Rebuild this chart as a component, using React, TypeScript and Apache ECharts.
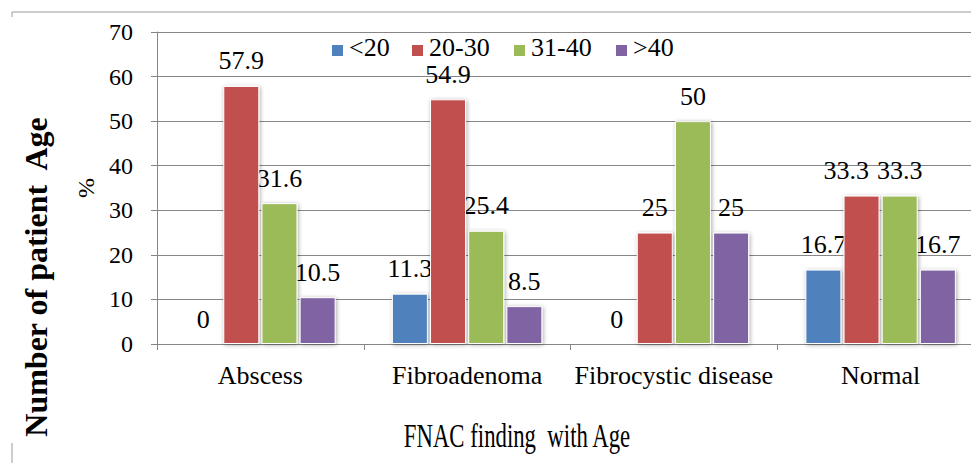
import React, { useEffect, useRef } from "react";
import * as echarts from "echarts";

const categories = ["Abscess", "Fibroadenoma", "Fibrocystic disease", "Normal"];
const seriesNames = ["<20", "20-30", "31-40", ">40"];
const under20 = [0, 11.3, 0, 16.7];
const age20to30 = [57.9, 54.9, 25, 33.3];
const age31to40 = [31.6, 25.4, 50, 33.3];
const over40 = [10.5, 8.5, 25, 16.7];
const yTickLabels = ["0", "10", "20", "30", "40", "50", "60", "70"];
const colors = ["#4F81BD", "#C0504D", "#9BBB59", "#8064A2"];
const yTicks = { min: 0, max: 70, interval: 10 };

const SERIF = "Liberation Serif";
const LEGEND_X = [332, 412, 514, 616];

// Texts are drawn at twice the size and scaled down by half.
function txt(text: string, x: number, y: number, size: number, align: string, extra: any = {}) {
  const { style: extraStyle, ...rest } = extra;
  return {
    type: "text",
    x,
    y,
    silent: true,
    scaleX: 0.5,
    scaleY: 0.5,
    ...rest,
    style: {
      text,
      fontFamily: SERIF,
      fontSize: size * 2,
      fill: "#000",
      align,
      verticalAlign: "middle",
      ...(extraStyle || {}),
    },
  };
}

function estWidth(s: string, size: number) {
  let w = 0;
  for (const ch of s) w += ch === "." ? 0.25 : 0.5;
  return w * size;
}

export default function App() {
  const ref = useRef<HTMLDivElement>(null);
  useEffect(() => {
    if (!ref.current) return;
    const chart = echarts.init(ref.current, null, { renderer: "svg" });
    const allData = [under20, age20to30, age31to40, over40];
    const series = allData.map((vals, i) => ({
      name: seriesNames[i],
      type: "bar",
      barWidth: 36,
      barGap: "6%",
      data: vals.map((v) =>
        v === 0
          ? { value: v, itemStyle: { borderWidth: 0, shadowBlur: 0, shadowColor: "transparent" } }
          : v
      ),
      itemStyle: {
        color: colors[i],
        borderColor: "#ffffff",
        borderWidth: 1,
        shadowBlur: 4,
        shadowColor: "rgba(0,0,0,0.35)",
        shadowOffsetX: 1,
        shadowOffsetY: 1,
      },
      label: { show: false },
    }));

    chart.setOption({
      animation: false,
      backgroundColor: "#ffffff",
      grid: { left: 157, top: 32, width: 827, height: 312, containLabel: false },
      legend: { show: false },
      xAxis: {
        type: "category",
        data: categories,
        axisLine: { show: true, lineStyle: { color: "#868686", width: 1 } },
        axisTick: { show: true, length: 6, alignWithLabel: false, lineStyle: { color: "#868686" } },
        axisLabel: { show: false },
      },
      yAxis: {
        type: "value",
        min: yTicks.min,
        max: yTicks.max,
        interval: yTicks.interval,
        axisLine: { show: true, lineStyle: { color: "#868686", width: 1 } },
        axisTick: { show: true, length: 6, lineStyle: { color: "#868686" } },
        splitLine: { show: true, lineStyle: { color: "#868686", width: 1 } },
        axisLabel: { show: false },
      },
      series,
    });

    const g: any[] = [
      { type: "line", silent: true, shape: { x1: 12, y1: 12, x2: 1000, y2: 12 }, style: { stroke: "#9a9a9a", lineWidth: 1 } },
      { type: "line", silent: true, shape: { x1: 12, y1: 12, x2: 12, y2: 17 }, style: { stroke: "#9a9a9a", lineWidth: 1 } },
      { type: "line", silent: true, shape: { x1: 12, y1: 443, x2: 12, y2: 463 }, style: { stroke: "#9a9a9a", lineWidth: 1 } },
      {
        type: "text",
        x: 517,
        y: 436,
        scaleX: 0.69,
        silent: true,
        style: {
          text: "FNAC finding  with Age",
          fontFamily: SERIF,
          fontSize: 33,
          fill: "#000",
          align: "center",
          verticalAlign: "middle",
        },
      },
      {
        type: "text",
        x: 36,
        y: 277,
        rotation: Math.PI / 2,
        silent: true,
        style: {
          text: "Number of patient  Age",
          fontFamily: SERIF,
          fontWeight: "bold",
          fontSize: 32,
          fill: "#000",
          align: "center",
          verticalAlign: "middle",
        },
      },
      txt("%", 86, 188, 24, "center", { rotation: Math.PI / 2 }),
    ];

    // legend
    seriesNames.forEach((name, i) => {
      g.push({
        type: "rect",
        silent: true,
        shape: { x: LEGEND_X[i], y: 45, width: 11, height: 11 },
        style: { fill: colors[i] },
      });
      g.push(txt(name, LEGEND_X[i] + 17, 47, 26, "left"));
    });

    // y tick labels
    const axisX = 157;
    yTickLabels.forEach((t) => {
      const py = chart.convertToPixel({ yAxisIndex: 0 }, Number(t)) as number;
      g.push(txt(t, axisX - 24, py, 24, "right"));
    });

    // category labels
    const baseY = chart.convertToPixel({ yAxisIndex: 0 }, 0) as number;
    categories.forEach((c) => {
      const px = chart.convertToPixel({ xAxisIndex: 0 }, c) as number;
      g.push(txt(c, px, baseY + 31, 26, "center"));
    });

    // data labels from the bar layout
    const LABEL_SIZE = 26;
    const model = (chart as any).getModel();
    const labels: { i: number; j: number; text: string; cx: number; cy: number }[] = [];
    allData.forEach((vals, i) => {
      const data = model.getSeriesByIndex(i).getData();
      vals.forEach((v, j) => {
        const lay = data.getItemLayout(j);
        const cx = lay.x + lay.width / 2;
        const top = Math.min(lay.y, lay.y + lay.height);
        labels.push({ i, j, text: String(v), cx, cy: top - 25 });
      });
    });
    categories.forEach((_, j) => {
      const ls = labels.filter((l) => l.j === j).sort((a, b) => a.i - b.i);
      for (let k = ls.length - 2; k >= 0; k--) {
        const a = ls[k];
        const b = ls[k + 1];
        if (Math.abs(a.cy - b.cy) < 20) {
          const gap = b.cx - estWidth(b.text, LABEL_SIZE) / 2 - (a.cx + estWidth(a.text, LABEL_SIZE) / 2);
          if (gap < 8) a.cx -= 8 - gap;
        }
      }
    });
    labels.forEach((l) => g.push(txt(l.text, l.cx, l.cy, LABEL_SIZE, "center")));

    chart.setOption({ graphic: g });
    return () => chart.dispose();
  }, []);

  return (
    <div
      style={{
        position: "absolute",
        left: 0,
        top: 0,
        width: 971,
        height: 463,
        overflow: "hidden",
        background: "#fff",
      }}
    >
      <div ref={ref} style={{ width: 1000, height: 463 }} />
    </div>
  );
}
